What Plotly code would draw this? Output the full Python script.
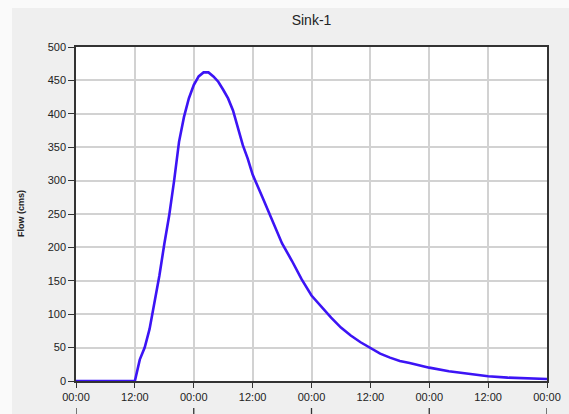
import datetime as dt
import plotly.graph_objects as go

# Outflow hydrograph at Sink-1 (hours since start of the run, flow in cms)
hours = [0, 12, 13, 14, 15, 16, 17, 18, 19, 20, 21, 22, 23, 24, 25, 26, 27, 28,
         29, 30, 31, 32, 33, 34, 35, 36, 38, 40, 42, 44, 46, 48, 50, 52, 54, 56,
         58, 60, 62, 64, 66, 68, 70, 72, 76, 80, 84, 88, 92, 96]
flow = [0, 0, 32, 50, 78, 118, 158, 205, 248, 300, 358, 395, 423, 443, 456, 462,
        462, 456, 448, 436, 423, 405, 380, 353, 333, 309, 275, 240, 206, 180, 152,
        128, 111, 95, 80, 68, 58, 50, 41, 35, 30, 27, 23, 20, 14.5, 11, 7, 5, 4, 3]

start = dt.datetime(2024, 1, 1, 0, 0)
times = [start + dt.timedelta(hours=h) for h in hours]
t_end = start + dt.timedelta(hours=96)
day_marks = [start + dt.timedelta(hours=24 * k) for k in range(5)]

W, H = 569, 414
L, R, T, B = 76, 22, 47, 33
plot_h = H - T - B
plot_w = W - L - R

font = "Liberation Sans, Arial, sans-serif"
grid = "#d2d2d2"
frame = "#333333"

fig = go.Figure()
fig.add_trace(go.Scatter(
    x=times, y=flow, mode="lines",
    line=dict(color="#3c14f5", width=2.6),
    hoverinfo="x+y", showlegend=False,
))

shapes = [
    # white strips along the top and left edge of the panel
    dict(type="rect", xref="paper", yref="paper",
         x0=-L / plot_w, x1=(W - L) / plot_w,
         y0=1 + (T - 8) / plot_h, y1=1 + T / plot_h,
         fillcolor="#fafafa", line_width=0, layer="below"),
    dict(type="rect", xref="paper", yref="paper",
         x0=-L / plot_w, x1=-(L - 12) / plot_w,
         y0=-B / plot_h, y1=1 + T / plot_h,
         fillcolor="#fafafa", line_width=0, layer="below"),
]
# day ticks of the lower date row
for d in day_marks:
    shapes.append(dict(type="line", xref="x", yref="paper", x0=d, x1=d,
                       y0=-27 / plot_h, y1=-34 / plot_h,
                       line=dict(color=frame, width=1.3)))

fig.update_layout(
    width=W, height=H,
    margin=dict(l=L, r=R, t=T, b=B),
    paper_bgcolor="#efefef",
    plot_bgcolor="#ffffff",
    title=dict(text="Sink-1", x=(L + plot_w / 2) / W, xanchor="center",
               y=1 - 20 / H, yanchor="middle",
               font=dict(family=font, size=14, color="#222222")),
    font=dict(family=font, size=11, color="#222222"),
    shapes=shapes,
    annotations=[dict(text="<b>Flow (cms)</b>", textangle=-90,
                      xref="paper", yref="paper",
                      x=-(L - 21) / plot_w, y=0.5,
                      xanchor="center", yanchor="middle", showarrow=False,
                      font=dict(family=font, size=9, color="#222222"))],
)

fig.update_xaxes(
    type="date", range=[start, t_end], automargin=False,
    tickformat="%H:%M", dtick=12 * 3600 * 1000, tick0=start,
    showgrid=True, gridcolor=grid, gridwidth=1.6,
    showline=True, linecolor=frame, linewidth=1.6, mirror=True,
    ticks="outside", ticklen=5, tickcolor=frame, tickwidth=1.3,
    zeroline=False,
    tickfont=dict(family=font, size=11, color="#222222"),
)
fig.update_yaxes(
    range=[0, 500], dtick=50, tick0=0, automargin=False,
    showgrid=True, gridcolor=grid, gridwidth=1.6,
    showline=True, linecolor=frame, linewidth=1.6, mirror=True,
    ticks="outside", ticklen=6, tickcolor=frame, tickwidth=1.3,
    zeroline=False,
    tickfont=dict(family=font, size=11, color="#222222"),
)

fig.write_html("out.html")
